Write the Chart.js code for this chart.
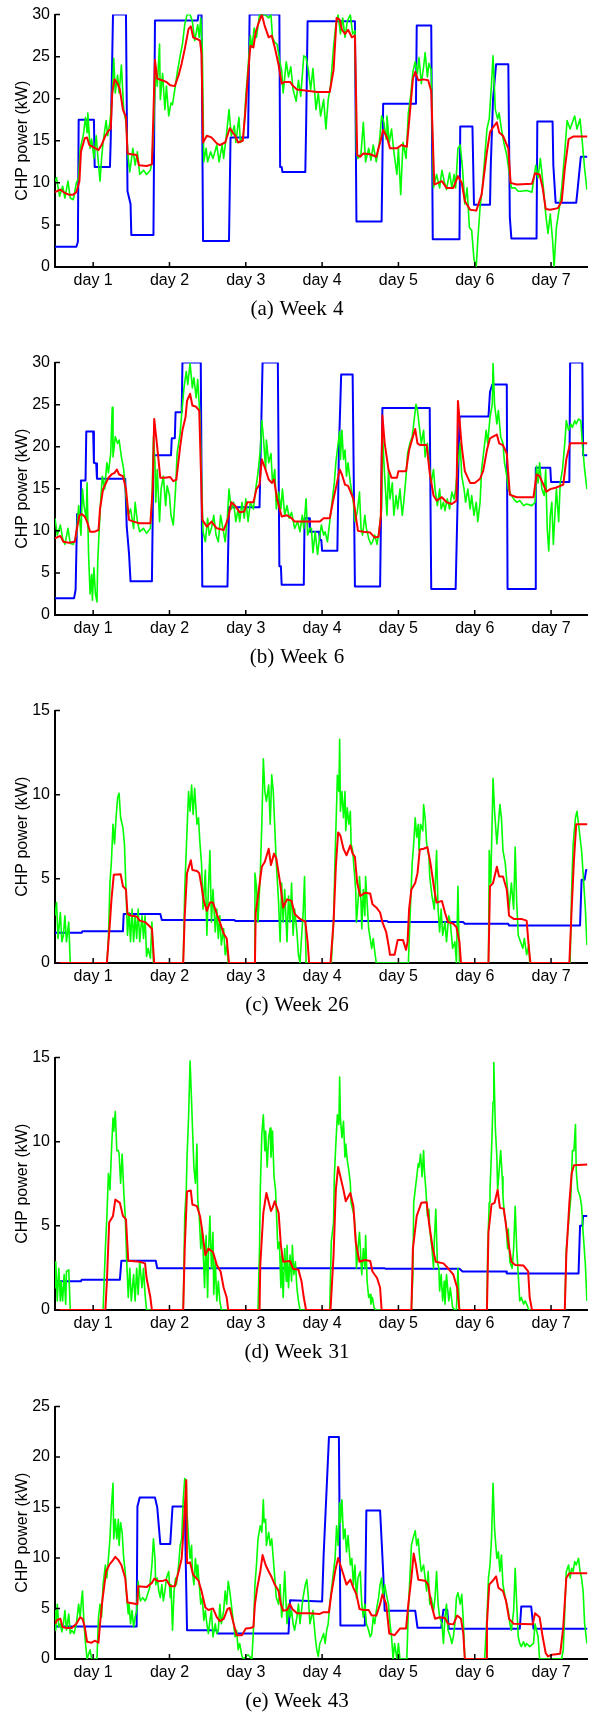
<!DOCTYPE html>
<html>
<head>
<meta charset="utf-8">
<script src="https://cdn.jsdelivr.net/npm/chart.js@4.4.0/dist/chart.umd.min.js"></script>
<style>
body { margin: 0; background: #fff; width: 594px; height: 1712px; position: relative; overflow: hidden; }
.panel { position: absolute; left: 0; width: 594px; height: 300px; }
.cap { position: absolute; left: 0; width: 594px; text-align: center; font-family: "Liberation Serif", serif; font-size: 21px; line-height: 21px; color: #000; word-spacing: 1px; }
</style>
</head>
<body>
<div class="panel" style="top:0px"><canvas id="w4" width="594" height="300"></canvas></div>
<div class="cap" style="top:298px">(a) Week 4</div>
<div class="panel" style="top:348px"><canvas id="w6" width="594" height="300"></canvas></div>
<div class="cap" style="top:646px">(b) Week 6</div>
<div class="panel" style="top:696px"><canvas id="w26" width="594" height="300"></canvas></div>
<div class="cap" style="top:994px">(c) Week 26</div>
<div class="panel" style="top:1043px"><canvas id="w31" width="594" height="300"></canvas></div>
<div class="cap" style="top:1341px">(d) Week 31</div>
<div class="panel" style="top:1392px"><canvas id="w43" width="594" height="300"></canvas></div>
<div class="cap" style="top:1690px">(e) Week 43</div>

<script>
// x in days, y in kW
const dayTicks = [1, 2, 3, 4, 5, 6, 7];
const dayLabels = ['day 1', 'day 2', 'day 3', 'day 4', 'day 5', 'day 6', 'day 7'];

// week 4
const week4Blue = [[0.5,2.4],[0.78,2.4],[0.8,3],[0.81,17.5],[1.01,17.5],[1.02,11.9],[1.22,11.9],[1.23,15],[1.26,30],[1.43,30],[1.45,9],[1.49,7.5],[1.5,3.8],[1.79,3.8],[1.81,29.3],[2.37,29.3],[2.38,30],[2.42,30],[2.44,3.1],[2.78,3.1],[2.8,15.4],[3.03,15.4],[3.05,30],[3.44,30],[3.45,11.9],[3.47,11.9],[3.48,11.3],[3.78,11.3],[3.79,16.4],[3.81,29.2],[4.43,29.2],[4.45,5.4],[4.78,5.4],[4.8,19.4],[5.23,19.4],[5.24,28.7],[5.43,28.7],[5.45,3.3],[5.8,3.3],[5.81,16.7],[5.97,16.7],[5.99,7.4],[6.2,7.4],[6.21,12],[6.24,20],[6.28,24.1],[6.44,24.1],[6.46,5.9],[6.48,3.4],[6.81,3.4],[6.82,17.3],[7.02,17.3],[7.03,12.1],[7.06,7.65],[7.33,7.65],[7.35,9.4],[7.39,13.1],[7.48,13.1]];
const week4Red = [[0.5,8.9],[0.57,9.2],[0.63,8.8],[0.68,8.6],[0.74,8.6],[0.78,8.9],[0.82,10.2],[0.84,13.7],[0.89,15.3],[0.92,15.4],[0.95,14.5],[0.99,14.3],[1.07,13.9],[1.11,14.5],[1.16,15.6],[1.2,16.2],[1.23,16.4],[1.25,20.7],[1.28,22.3],[1.32,21.8],[1.35,21.1],[1.39,18.7],[1.43,17.8],[1.45,13.5],[1.5,13.4],[1.57,13.3],[1.6,12.1],[1.7,12],[1.77,12.2],[1.79,18.3],[1.81,24.6],[1.84,22.4],[1.9,22.2],[1.96,22],[2.01,21.6],[2.07,21.5],[2.12,22.8],[2.16,24.2],[2.2,25.9],[2.25,28.3],[2.28,28.6],[2.31,27.3],[2.36,27.1],[2.4,26.9],[2.42,25.3],[2.44,14.8],[2.49,15.6],[2.55,15.4],[2.62,14.7],[2.66,14.5],[2.73,14.8],[2.79,16.5],[2.86,15.6],[2.9,14.8],[2.96,15],[2.99,18],[3.02,21.8],[3.06,26.3],[3.1,26.1],[3.13,27.9],[3.16,28.8],[3.21,30],[3.25,28.6],[3.3,27.3],[3.34,27.5],[3.38,26.1],[3.43,24],[3.47,21.8],[3.51,22],[3.58,22],[3.62,21.5],[3.67,21.1],[3.75,21],[3.93,20.8],[4.1,20.8],[4.15,23.4],[4.19,29.6],[4.23,29.4],[4.26,28.2],[4.3,27.7],[4.34,28.2],[4.39,27.3],[4.43,27.5],[4.46,13.3],[4.5,13.1],[4.54,13.5],[4.63,13.4],[4.71,13.1],[4.76,14.8],[4.8,16.3],[4.85,15.4],[4.89,14.1],[4.98,14.1],[5.04,14.5],[5.11,14.3],[5.15,18.3],[5.19,22.4],[5.22,23.2],[5.26,22.2],[5.33,22.3],[5.39,22.2],[5.43,20.9],[5.47,9.8],[5.52,10],[5.57,10.2],[5.63,9.4],[5.72,9.4],[5.78,10.8],[5.83,10],[5.87,7.85],[5.94,6.8],[6.02,6.7],[6.09,8.6],[6.16,13.7],[6.2,16],[6.24,16.6],[6.29,17.2],[6.32,16],[6.37,15.6],[6.44,14.1],[6.47,10],[6.55,9.8],[6.75,9.9],[6.79,11.15],[6.85,11],[6.89,9.4],[6.93,6.9],[6.99,6.8],[7.09,7],[7.14,7.85],[7.18,11.7],[7.23,15.2],[7.29,15.5],[7.48,15.5]];
const week4Green = [[0.5,10.2],[0.52,10.6],[0.56,8.4],[0.6,9.6],[0.63,8.2],[0.67,10.2],[0.7,8.2],[0.74,8],[0.78,10],[0.81,10.6],[0.83,14.1],[0.87,15.6],[0.9,17.8],[0.92,16],[0.93,18.3],[0.96,14.1],[0.98,15.2],[1.01,12.9],[1.04,15.6],[1.06,13.3],[1.09,10.2],[1.11,12.9],[1.13,14.8],[1.17,17.4],[1.19,15.6],[1.22,17.2],[1.25,20.3],[1.27,24.8],[1.29,20.7],[1.32,22.8],[1.34,20.7],[1.37,24],[1.4,18.7],[1.43,17.2],[1.46,12.9],[1.48,11.3],[1.52,14.1],[1.55,12.1],[1.58,13.7],[1.61,11],[1.66,11.5],[1.7,11],[1.75,11.5],[1.77,12.5],[1.79,16],[1.82,23.6],[1.84,21.5],[1.87,26.5],[1.88,19.9],[1.91,23],[1.94,18.7],[1.96,21.5],[1.99,17.95],[2.02,19.5],[2.04,19.3],[2.07,21.1],[2.1,23],[2.14,25.1],[2.17,26.5],[2.2,28.8],[2.23,30],[2.27,30],[2.3,29.2],[2.33,26.9],[2.37,28.8],[2.39,27.3],[2.41,29.6],[2.43,26.1],[2.45,12.5],[2.48,14.1],[2.5,12.5],[2.54,13.7],[2.57,12.9],[2.62,14.5],[2.65,12.5],[2.69,14.5],[2.71,12.9],[2.75,16],[2.78,18.7],[2.81,15.6],[2.85,16.8],[2.87,14.8],[2.91,17.8],[2.93,14.8],[2.97,15.6],[3,20.3],[3.03,23.8],[3.06,27.5],[3.08,26.1],[3.11,28.4],[3.14,27.3],[3.18,30],[3.21,30],[3.25,30],[3.3,29.6],[3.33,30],[3.35,27.3],[3.38,26.7],[3.41,26.5],[3.45,24.2],[3.47,23.4],[3.49,20.7],[3.53,24.4],[3.56,22.6],[3.59,23.8],[3.62,21.1],[3.66,19.7],[3.69,22.2],[3.72,20.3],[3.76,25.1],[3.79,24.9],[3.82,23.4],[3.85,21.1],[3.88,23.6],[3.92,18.7],[3.95,20.7],[3.98,17.95],[4.02,19.9],[4.05,16.4],[4.08,19.9],[4.11,21.5],[4.15,26.1],[4.18,28.8],[4.21,30],[4.24,27.7],[4.27,29.6],[4.3,27.3],[4.33,29.2],[4.37,30],[4.4,27.7],[4.43,28.1],[4.45,13.7],[4.47,12.9],[4.51,13.5],[4.54,17.2],[4.57,12.5],[4.61,14.1],[4.64,12.7],[4.67,14.5],[4.71,12.5],[4.75,14.8],[4.78,17.95],[4.81,17.2],[4.84,15.2],[4.85,17.95],[4.88,14.8],[4.91,16.4],[4.94,13.7],[4.98,11],[5,14.1],[5.03,8.6],[5.06,14.8],[5.1,12.9],[5.13,18.3],[5.16,20.3],[5.19,23.2],[5.22,24.4],[5.25,23],[5.27,24.9],[5.3,21.8],[5.33,23.8],[5.35,25.5],[5.38,22.6],[5.4,24.2],[5.43,23.4],[5.46,9.4],[5.5,11],[5.54,9.4],[5.57,11.5],[5.6,10.2],[5.63,9.2],[5.67,11.2],[5.7,9.4],[5.73,11],[5.75,9.4],[5.78,14.1],[5.81,14.5],[5.84,11.7],[5.87,7.5],[5.9,9.4],[5.93,4.7],[5.96,4.35],[5.99,0.9],[6.02,0.1],[6.04,3.2],[6.07,7.1],[6.1,9.4],[6.13,12.9],[6.16,16.4],[6.19,17.6],[6.22,21.8],[6.24,25.1],[6.27,18.7],[6.3,17.6],[6.32,18.3],[6.35,16.4],[6.38,14.8],[6.42,13.3],[6.45,11.3],[6.48,9.4],[6.53,9.4],[6.57,9],[6.61,9],[6.68,9.1],[6.75,8.9],[6.77,10.2],[6.8,12.1],[6.83,10.6],[6.86,12.9],[6.9,9.4],[6.93,6.3],[6.96,4],[6.99,6.3],[7.02,3.2],[7.04,0.1],[7.07,4.7],[7.11,7.1],[7.14,9.4],[7.18,13.7],[7.21,17.4],[7.25,16.4],[7.28,17.2],[7.31,17.95],[7.34,16.4],[7.38,17.6],[7.41,14.8],[7.44,11.7],[7.47,9.2]];

// week 6
const week6Blue = [[0.5,2],[0.75,2],[0.77,3],[0.79,12],[0.83,12],[0.84,16],[0.9,16],[0.91,21.8],[1,21.8],[1.01,18.1],[1.04,18],[1.05,16.2],[1.42,16.2],[1.44,10.5],[1.47,7.3],[1.49,4],[1.77,4],[1.79,19],[2.02,19],[2.03,21],[2.07,21],[2.08,24.1],[2.16,24.1],[2.17,30],[2.41,30],[2.43,3.4],[2.76,3.4],[2.78,12.8],[3.18,12.8],[3.22,30],[3.42,30],[3.44,5.8],[3.46,5.8],[3.47,3.6],[3.76,3.6],[3.77,11.5],[3.83,11.5],[3.84,9.9],[3.96,9.9],[3.97,8.9],[3.99,8.9],[4,7.65],[4.2,7.65],[4.22,19.6],[4.25,28.6],[4.4,28.6],[4.43,3.4],[4.76,3.4],[4.79,24.6],[5.41,24.6],[5.43,3.1],[5.75,3.1],[5.8,23.6],[6.18,23.6],[6.2,26.5],[6.23,27.4],[6.42,27.4],[6.43,3.1],[6.79,3.1],[6.8,17.5],[6.99,17.5],[7,15.8],[7.24,15.8],[7.25,30],[7.41,30],[7.42,19],[7.48,19]];
const week6Red = [[0.5,9.1],[0.57,9.4],[0.61,8.7],[0.68,8.6],[0.76,8.7],[0.78,9.9],[0.82,11.85],[0.85,12],[0.89,11.7],[0.92,11.1],[0.96,9.9],[1.02,9.9],[1.07,10.1],[1.09,12.6],[1.13,14.96],[1.2,16.3],[1.24,16.7],[1.28,16.9],[1.31,17.3],[1.34,16.7],[1.39,16.5],[1.43,14.96],[1.47,11.3],[1.53,11.1],[1.61,10.9],[1.75,10.9],[1.78,14.96],[1.8,23.3],[1.83,20.8],[1.88,16.3],[1.94,16.3],[2.01,16.4],[2.05,15.9],[2.09,16.1],[2.14,20],[2.17,21.95],[2.21,23.5],[2.23,25.45],[2.27,26.3],[2.3,24.9],[2.35,24.75],[2.39,24.3],[2.43,11.3],[2.49,10.5],[2.55,11.1],[2.62,10.3],[2.71,10.1],[2.77,11.5],[2.81,13.4],[2.86,13],[2.92,12.2],[2.98,12.3],[3.02,13.4],[3.1,13.4],[3.14,14.96],[3.18,15.5],[3.21,18.5],[3.25,17.5],[3.3,16.1],[3.34,15.7],[3.37,16.1],[3.41,13.8],[3.47,11.7],[3.54,11.85],[3.6,11.5],[3.64,11.1],[3.97,11.1],[4.02,11.5],[4.1,11.5],[4.14,13.4],[4.19,15.5],[4.23,17.3],[4.26,16.7],[4.3,15.5],[4.34,15.35],[4.41,13.8],[4.44,11.85],[4.47,10],[4.54,9.9],[4.63,9.8],[4.69,9.2],[4.74,9.3],[4.77,11.85],[4.79,23.7],[4.82,20.4],[4.87,17.3],[4.91,16.3],[4.98,16.3],[5,17.1],[5.1,17.1],[5.14,19.6],[5.19,21.2],[5.22,22.1],[5.25,20.4],[5.28,20.2],[5.37,20.2],[5.41,16.9],[5.46,14.2],[5.5,13.6],[5.57,14],[5.63,13.4],[5.7,13.2],[5.76,13.6],[5.78,25.45],[5.83,20],[5.87,17.1],[5.94,15.7],[6,15.7],[6.07,16.2],[6.11,17.1],[6.16,19.6],[6.2,21],[6.24,21.2],[6.29,21.45],[6.32,20.4],[6.37,20.2],[6.42,19.2],[6.46,14.3],[6.55,14],[6.77,14],[6.81,16.7],[6.85,16.5],[6.9,15.5],[6.94,14.65],[6.99,14.96],[7.07,15.15],[7.16,15.5],[7.2,18.5],[7.25,20.4],[7.48,20.4]];
const week6Green = [[0.5,11.5],[0.53,9.5],[0.57,10.7],[0.6,9.1],[0.63,8.4],[0.67,10.3],[0.7,8.5],[0.74,8.4],[0.78,9.5],[0.81,13],[0.84,9.5],[0.86,14.96],[0.88,13],[0.91,11.5],[0.92,15.7],[0.94,7.2],[0.96,2.5],[0.98,4.8],[0.99,1.75],[1.01,5.6],[1.03,2.5],[1.05,1.55],[1.06,6.4],[1.08,10.3],[1.1,13.8],[1.12,16.5],[1.15,14.96],[1.18,18.1],[1.2,16.9],[1.23,19.2],[1.25,24.7],[1.26,18.8],[1.29,21.2],[1.32,20.4],[1.34,20.8],[1.37,18.8],[1.4,17.3],[1.43,14.2],[1.46,11.85],[1.49,12.6],[1.53,10.3],[1.55,13.4],[1.58,11.1],[1.61,9.9],[1.66,10.3],[1.7,9.7],[1.75,10.3],[1.77,13.4],[1.79,21.2],[1.81,18.1],[1.82,13.4],[1.84,17.3],[1.87,11.1],[1.89,14.96],[1.92,16.5],[1.95,13],[1.97,15.35],[2,14.2],[2.02,11.85],[2.05,10.7],[2.08,14.96],[2.1,19.2],[2.14,21.6],[2.16,23.9],[2.19,27],[2.22,28.95],[2.24,27.4],[2.27,29.9],[2.3,27],[2.32,28.2],[2.35,25.8],[2.37,28],[2.4,23.5],[2.42,16.5],[2.44,9.9],[2.47,8.7],[2.5,11.5],[2.52,9.5],[2.55,10.3],[2.58,11.85],[2.61,9.5],[2.64,8.7],[2.67,11.85],[2.7,10.3],[2.73,8.7],[2.76,11.85],[2.78,14.96],[2.81,12.6],[2.84,13.4],[2.87,11.1],[2.9,12.6],[2.92,11.1],[2.95,13.4],[2.98,11.5],[3,13.8],[3.03,11.1],[3.06,13.4],[3.1,12.6],[3.13,14.96],[3.16,16.9],[3.19,19.6],[3.21,23.1],[3.23,21.2],[3.26,17.3],[3.27,20.8],[3.3,18.1],[3.33,19.2],[3.35,15.7],[3.38,17.3],[3.4,12.6],[3.43,14.6],[3.46,12.6],[3.48,14.96],[3.51,11.85],[3.54,13],[3.57,11.5],[3.6,12.2],[3.64,10.3],[3.68,11.1],[3.71,9.9],[3.74,11.85],[3.76,10.3],[3.79,13.8],[3.81,9.5],[3.84,10.3],[3.86,10.3],[3.88,7.4],[3.91,9.9],[3.94,7.2],[3.96,8.7],[3.99,10.7],[4.02,9.5],[4.04,9.9],[4.07,8.7],[4.1,11.1],[4.13,13.4],[4.16,15.7],[4.18,18.1],[4.21,20.4],[4.23,21.8],[4.24,18.5],[4.26,21.95],[4.28,18.5],[4.3,19.6],[4.32,16.5],[4.34,18.1],[4.37,15.7],[4.39,14.6],[4.41,13.4],[4.43,11.1],[4.46,12.2],[4.49,14.6],[4.51,10.3],[4.53,9.5],[4.56,11.85],[4.58,10.3],[4.61,9.1],[4.64,8.4],[4.66,8.7],[4.69,9.5],[4.72,8.4],[4.75,10.3],[4.78,12.6],[4.79,21.95],[4.81,18.1],[4.83,14.96],[4.85,11.85],[4.87,17.3],[4.89,13.8],[4.92,15.7],[4.94,11.85],[4.97,14.2],[4.99,12.6],[5.02,14.96],[5.05,11.85],[5.07,13.4],[5.1,16.5],[5.12,19.2],[5.15,20.4],[5.18,21.2],[5.2,22.7],[5.23,25.05],[5.25,24.3],[5.27,22.7],[5.3,20.4],[5.33,21.95],[5.35,18.8],[5.38,20.4],[5.4,18.1],[5.43,15.7],[5.46,17.3],[5.48,14.96],[5.51,13],[5.54,14.96],[5.56,12.6],[5.59,13.4],[5.61,12.4],[5.64,13.8],[5.67,12.6],[5.7,14.6],[5.73,13.8],[5.75,14.96],[5.78,18.1],[5.81,20.4],[5.83,16.5],[5.86,14.96],[5.88,13.4],[5.91,14.96],[5.94,12.6],[5.96,14.2],[5.99,11.85],[6.02,13.4],[6.04,11.1],[6.07,13.4],[6.09,17.3],[6.12,19.6],[6.15,21.95],[6.17,20.4],[6.2,23.5],[6.23,25.05],[6.24,29.9],[6.26,25.05],[6.29,22.7],[6.31,24.3],[6.34,21.2],[6.37,20.4],[6.39,18.1],[6.42,16.5],[6.44,14.96],[6.47,14.4],[6.51,13.8],[6.55,13.4],[6.59,13.6],[6.64,13],[6.68,13.2],[6.75,13],[6.79,13.4],[6.81,17.7],[6.83,15.7],[6.85,18.1],[6.88,14.96],[6.91,14.2],[6.93,17.3],[6.95,10.3],[6.97,7.6],[6.99,11.85],[7.01,13.4],[7.03,8.4],[7.05,11.85],[7.07,14.96],[7.1,11.1],[7.12,15.7],[7.15,17.3],[7.18,20.4],[7.2,23.1],[7.23,21.95],[7.26,22.7],[7.28,22.3],[7.31,23.1],[7.33,22.7],[7.36,23.3],[7.39,23.1],[7.41,20.4],[7.44,17.3],[7.47,14.96]];

// week 26
const week26Blue = [[0.5,1.8],[0.85,1.8],[0.86,1.88],[1.39,1.88],[1.4,2.91],[1.88,2.91],[1.9,2.56],[2.85,2.56],[2.86,2.5],[4.85,2.5],[4.87,2.43],[5.85,2.43],[5.87,2.33],[6.44,2.33],[6.45,2.23],[7.38,2.23],[7.4,4.95],[7.44,4.95],[7.46,5.53],[7.48,5.53]];
const week26Red = [[0.5,0],[1.18,0],[1.22,2.43],[1.24,3.78],[1.27,5.24],[1.36,5.28],[1.39,4.56],[1.43,4.37],[1.45,2.91],[1.5,2.81],[1.57,2.77],[1.61,2.52],[1.68,2.43],[1.72,2.27],[1.77,2.04],[1.8,0],[2.18,0],[2.2,2.81],[2.23,5.34],[2.28,6.11],[2.3,5.53],[2.36,5.47],[2.39,5.34],[2.42,4.56],[2.45,3.69],[2.49,3.1],[2.53,3.59],[2.57,3.59],[2.62,2.91],[2.66,2.43],[2.71,1.75],[2.75,1.46],[2.78,0],[3.12,0],[3.13,3],[3.16,3.98],[3.21,5.72],[3.25,6.02],[3.3,6.79],[3.33,5.82],[3.37,6.5],[3.4,6.21],[3.45,4.75],[3.49,3.3],[3.54,3.78],[3.6,3.69],[3.64,2.91],[3.71,2.62],[3.78,2.46],[3.81,1.26],[3.83,0],[4.11,0],[4.15,2.43],[4.18,5.72],[4.21,7.76],[4.24,7.57],[4.28,6.79],[4.32,6.4],[4.37,6.99],[4.4,6.5],[4.43,6.31],[4.46,4.75],[4.5,3.98],[4.56,4.17],[4.63,4.13],[4.66,3.49],[4.71,3.3],[4.76,3],[4.79,2.43],[4.84,1.84],[4.87,1.07],[4.89,0.49],[4.95,0.49],[4.99,1.36],[5.06,1.36],[5.1,0.78],[5.12,1.26],[5.14,3.2],[5.17,4.37],[5.22,4.75],[5.25,5.34],[5.28,6.74],[5.33,6.79],[5.38,6.89],[5.42,5.92],[5.47,4.37],[5.5,3.59],[5.57,3.69],[5.61,3],[5.65,2.43],[5.72,2.33],[5.76,2.13],[5.8,1.26],[5.82,0],[6.18,0],[6.2,4.56],[6.24,4.75],[6.29,5.72],[6.32,5.14],[6.37,5.14],[6.42,4.37],[6.45,2.81],[6.51,2.62],[6.61,2.62],[6.68,2.52],[6.71,0.87],[6.73,0],[7.24,0],[7.27,3.2],[7.3,6.11],[7.33,8.25],[7.48,8.25]];
const week26Green = [[0.5,2.81],[0.52,3.59],[0.54,1.46],[0.57,3],[0.59,1.26],[0.61,1.65],[0.63,2.81],[0.65,1.26],[0.68,2.43],[0.7,0],[1.18,0],[1.2,1.46],[1.22,4.75],[1.24,6.11],[1.26,8.25],[1.28,7.08],[1.3,8.63],[1.32,9.8],[1.34,10.09],[1.36,8.63],[1.39,8.05],[1.41,7.08],[1.43,4.37],[1.45,1.65],[1.47,3],[1.49,1.26],[1.51,3.2],[1.53,1.26],[1.55,2.81],[1.57,1.46],[1.59,3.2],[1.61,1.26],[1.64,2.81],[1.66,1.46],[1.68,2.81],[1.7,0.39],[1.72,0.87],[1.75,0.29],[1.77,2.43],[1.79,0],[2.18,0],[2.2,4.37],[2.23,7.86],[2.25,10.19],[2.27,9.02],[2.29,10.58],[2.31,8.83],[2.33,10.38],[2.36,8.25],[2.38,8.63],[2.4,7.08],[2.42,5.92],[2.44,3.2],[2.47,5.53],[2.49,1.65],[2.51,4.37],[2.53,6.69],[2.55,2.43],[2.57,4.37],[2.6,1.84],[2.62,3.2],[2.64,1.46],[2.66,2.81],[2.68,1.07],[2.71,2.04],[2.73,0.49],[2.75,1.07],[2.77,0],[3.11,0],[3.12,5.34],[3.14,4.56],[3.16,2.43],[3.19,5.34],[3.21,8.25],[3.23,12.13],[3.25,10.19],[3.27,9.6],[3.3,10.58],[3.32,8.25],[3.34,11.18],[3.36,10.19],[3.38,8.05],[3.4,5.92],[3.43,3.59],[3.45,1.26],[3.47,4.75],[3.49,2.43],[3.51,4.37],[3.54,1.26],[3.56,3.98],[3.58,2.43],[3.6,4.75],[3.62,1.65],[3.64,3.2],[3.67,1.84],[3.69,0.49],[3.71,0],[3.73,1.5],[3.75,2.81],[3.77,5.14],[3.79,0],[4.12,0],[4.15,2.43],[4.17,6.31],[4.19,9.41],[4.2,11.16],[4.22,10.19],[4.23,13.29],[4.24,9.02],[4.26,10.19],[4.28,8.63],[4.3,10.19],[4.31,7.86],[4.33,9.22],[4.35,8.25],[4.37,9.02],[4.38,7.08],[4.4,6.69],[4.42,5.53],[4.44,4.37],[4.45,2.43],[4.47,3.59],[4.49,5.14],[4.51,3.59],[4.52,2.04],[4.54,4.37],[4.56,2.81],[4.57,5.14],[4.59,3.59],[4.61,2.04],[4.63,1.46],[4.65,0.87],[4.67,1.46],[4.69,0.68],[4.71,0],[5.13,0],[5.15,2.43],[5.18,5.92],[5.2,7.08],[5.22,8.63],[5.24,7.47],[5.26,8.25],[5.27,6.69],[5.29,8.25],[5.32,7.86],[5.33,9.41],[5.35,8.63],[5.37,7.08],[5.4,6.31],[5.41,5.14],[5.44,3.98],[5.47,3.2],[5.48,4.37],[5.5,6.69],[5.52,3.2],[5.54,1.84],[5.56,3.2],[5.58,1.65],[5.61,2.43],[5.63,1.26],[5.66,2.81],[5.68,2.43],[5.71,0.87],[5.74,1.26],[5.76,0],[5.78,4.56],[5.8,0],[6.18,0],[6.19,6.69],[6.21,4.75],[6.23,8.83],[6.24,10.97],[6.26,9.02],[6.29,7.08],[6.31,8.25],[6.33,9.41],[6.35,8.63],[6.37,6.69],[6.4,5.92],[6.43,4.37],[6.45,3.2],[6.48,4.75],[6.51,3.2],[6.53,6.89],[6.55,3.59],[6.57,1.65],[6.6,1.26],[6.63,0.87],[6.65,1.46],[6.68,0.49],[6.71,1.07],[6.72,0],[7.25,0],[7.27,4.37],[7.29,7.08],[7.32,8.63],[7.34,9.02],[7.36,8.25],[7.38,7.47],[7.4,6.69],[7.42,5.34],[7.45,3.2],[7.47,1.07]];

// week 31
const week31Blue = [[0.5,1.71],[0.84,1.71],[0.85,1.8],[1.35,1.8],[1.37,2.93],[1.82,2.93],[1.84,2.48],[4.82,2.48],[4.83,2.45],[5.8,2.45],[5.84,2.29],[6.41,2.29],[6.42,2.17],[7.36,2.17],[7.38,5],[7.41,5],[7.42,5.59],[7.48,5.59]];
const week31Red = [[0.5,0],[1.16,0],[1.18,1.71],[1.21,5.2],[1.26,5.59],[1.29,6.56],[1.35,6.37],[1.39,5.59],[1.43,5.39],[1.46,2.93],[1.61,2.87],[1.68,2.77],[1.7,1.9],[1.75,0.74],[1.77,0],[2.18,0],[2.2,3.65],[2.23,7.04],[2.28,7.1],[2.3,6.27],[2.36,6.17],[2.4,5.59],[2.42,5],[2.47,3.26],[2.51,3.65],[2.57,3.45],[2.62,2.68],[2.67,2.29],[2.71,1.32],[2.75,0.74],[2.77,0],[3.18,0],[3.19,2.68],[3.23,5.78],[3.27,6.95],[3.33,5.88],[3.35,6.07],[3.38,6.46],[3.43,5.78],[3.46,3.84],[3.49,2.87],[3.58,2.91],[3.62,2.45],[3.69,2.39],[3.73,1.71],[3.76,0.74],[3.79,0],[4.11,0],[4.15,3.26],[4.18,7.14],[4.21,8.5],[4.24,7.92],[4.28,7.14],[4.31,6.46],[4.37,6.95],[4.41,6.17],[4.44,4.04],[4.49,2.87],[4.56,2.97],[4.63,2.91],[4.66,2.29],[4.72,1.9],[4.76,1.32],[4.78,0],[5.17,0],[5.19,3.65],[5.24,5.59],[5.27,5.98],[5.3,6.37],[5.37,6.4],[5.4,5.2],[5.45,3.65],[5.49,2.87],[5.59,2.77],[5.65,2.48],[5.72,2.1],[5.77,1.32],[5.8,0],[6.16,0],[6.18,4.62],[6.22,6.27],[6.26,6.37],[6.3,7.14],[6.33,6.07],[6.38,6.02],[6.44,4.04],[6.48,2.87],[6.53,2.68],[6.64,2.64],[6.7,2.29],[6.72,0.74],[6.75,0],[7.18,0],[7.2,3.26],[7.24,6.37],[7.27,8.11],[7.3,8.6],[7.48,8.65]];
const week31Green = [[0.5,1.32],[0.51,2.87],[0.53,0.54],[0.55,2.48],[0.57,0.54],[0.58,1.71],[0.6,0.54],[0.62,2.1],[0.64,0.35],[0.65,2.29],[0.68,2.39],[0.7,0],[1.13,0],[1.16,3.65],[1.18,5.59],[1.2,8.11],[1.22,7.14],[1.24,9.47],[1.26,11.41],[1.27,10.63],[1.29,11.8],[1.31,9.47],[1.33,9.47],[1.34,9.27],[1.36,7.53],[1.38,9.27],[1.4,7.14],[1.42,5.59],[1.44,2.87],[1.46,0.74],[1.48,2.48],[1.5,0.54],[1.53,2.1],[1.55,0.54],[1.57,2.48],[1.59,0.93],[1.61,2.87],[1.64,1.32],[1.66,2.48],[1.68,0.93],[1.7,0],[2.18,0],[2.2,5.59],[2.22,7.14],[2.23,9.08],[2.25,11.41],[2.27,14.8],[2.29,12.38],[2.3,11.02],[2.32,8.5],[2.34,7.53],[2.36,9.86],[2.37,6.56],[2.39,5.59],[2.41,3.65],[2.43,4.81],[2.44,3.65],[2.46,1.32],[2.48,4.42],[2.5,0.74],[2.51,3.26],[2.53,5.59],[2.55,2.48],[2.57,4.62],[2.58,0.93],[2.6,2.87],[2.62,0.54],[2.64,1.71],[2.66,0.54],[2.68,0],[3.16,0],[3.18,3.65],[3.19,7.14],[3.21,10.44],[3.23,11.6],[3.25,9.47],[3.26,10.63],[3.28,8.5],[3.3,10.24],[3.32,10.82],[3.33,9.08],[3.35,10.63],[3.37,7.92],[3.39,7.14],[3.4,5.98],[3.42,3.65],[3.44,4.04],[3.46,1.32],[3.47,3.26],[3.49,0.74],[3.51,3.65],[3.53,1.71],[3.54,3.84],[3.56,1.32],[3.58,3.26],[3.6,1.71],[3.61,3.84],[3.63,2.1],[3.65,2.87],[3.67,1.32],[3.69,0.54],[3.71,0],[4.1,0],[4.12,4.04],[4.15,5.2],[4.16,7.92],[4.18,9.86],[4.2,11.6],[4.22,11.02],[4.23,13.84],[4.24,11.41],[4.26,10.24],[4.28,11.21],[4.3,9.08],[4.31,9.86],[4.33,8.89],[4.35,8.3],[4.37,7.53],[4.38,6.37],[4.4,5.98],[4.42,5.59],[4.44,4.42],[4.45,2.48],[4.47,3.65],[4.49,4.62],[4.51,2.87],[4.52,2.1],[4.54,3.65],[4.56,2.48],[4.57,4.42],[4.59,1.71],[4.61,0.74],[4.63,0.93],[4.64,0.35],[4.66,0.74],[4.68,0.16],[4.7,0],[5.17,0],[5.19,2.1],[5.2,6.37],[5.22,7.14],[5.24,7.92],[5.26,8.69],[5.27,8.5],[5.29,9.27],[5.31,7.92],[5.33,9.47],[5.34,8.3],[5.36,7.14],[5.38,5.59],[5.4,5.98],[5.41,4.81],[5.44,3.65],[5.46,2.48],[5.47,4.04],[5.49,5.98],[5.51,2.87],[5.53,2.48],[5.54,1.13],[5.56,2.1],[5.58,0.54],[5.6,1.71],[5.61,0.35],[5.63,2.1],[5.66,0.54],[5.68,1.32],[5.71,0.16],[5.74,0],[5.76,0],[5.78,2.48],[5.8,0],[6.16,0],[6.17,3.65],[6.19,6.37],[6.2,7.14],[6.22,9.47],[6.24,12.38],[6.25,14.71],[6.27,10.82],[6.29,9.08],[6.3,7.14],[6.32,8.3],[6.34,9.47],[6.36,7.92],[6.37,6.75],[6.39,5.59],[6.41,5.2],[6.43,3.65],[6.44,4.81],[6.46,2.87],[6.49,2.48],[6.51,3.65],[6.53,6.17],[6.55,3.65],[6.57,2.1],[6.59,0.54],[6.61,0.74],[6.64,0.35],[6.66,0.54],[6.68,0.35],[6.71,0],[7.18,0],[7.2,3.65],[7.23,5.2],[7.26,6.75],[7.28,9.47],[7.3,9.47],[7.32,11.02],[7.33,8.3],[7.35,7.14],[7.38,6.75],[7.4,6.17],[7.42,4.62],[7.45,2.68],[7.47,0.54]];

// week 43
const week43Blue = [[0.5,3.23],[1.57,3.23],[1.58,15.1],[1.61,16],[1.81,16],[1.84,15],[1.88,11.4],[2.01,11.4],[2.04,15.1],[2.2,15.1],[2.23,2.85],[2.62,2.85],[2.63,2.52],[3.56,2.52],[3.58,5.82],[4,5.7],[4.02,10.3],[4.09,22],[4.22,22],[4.24,3.33],[4.56,3.33],[4.58,14.7],[4.76,14.7],[4.8,8.67],[4.82,4.78],[5.22,4.78],[5.25,3.1],[5.56,3.1],[5.59,4.88],[5.64,4.88],[5.66,3],[6.59,3],[6.61,5.2],[6.74,5.2],[6.77,3],[7.48,3]];
const week43Red = [[0.5,3.49],[0.53,3.88],[0.57,3.98],[0.6,3.17],[0.65,3.07],[0.72,3.07],[0.78,3.49],[0.83,4.14],[0.86,3.98],[0.89,3.17],[0.92,1.71],[0.98,1.62],[1.02,1.81],[1.07,1.62],[1.09,3.49],[1.12,5.76],[1.17,8.67],[1.21,9.31],[1.26,9.8],[1.29,10.12],[1.33,9.8],[1.37,9.31],[1.42,8.02],[1.45,5.6],[1.53,5.5],[1.58,5.43],[1.59,7.21],[1.7,7.12],[1.77,7.54],[1.8,7.96],[1.85,7.7],[1.92,7.76],[1.96,7.86],[2.01,7.21],[2.07,7.21],[2.12,8.67],[2.16,9.96],[2.19,13.52],[2.22,17.7],[2.23,9.48],[2.27,9.57],[2.31,8.35],[2.38,7.76],[2.42,6.73],[2.47,5.11],[2.51,4.85],[2.57,5.01],[2.62,4.14],[2.66,3.75],[2.71,3.98],[2.76,4.95],[2.79,5.05],[2.83,3.82],[2.88,2.36],[2.95,2.36],[3,3.01],[3.06,3.07],[3.1,3.17],[3.12,5.43],[3.15,7.05],[3.19,8.67],[3.22,10.29],[3.26,9.31],[3.3,8.67],[3.34,8.09],[3.38,7.37],[3.43,6.73],[3.46,5.43],[3.49,4.79],[3.54,4.85],[3.58,5.43],[3.61,4.95],[3.67,4.53],[3.84,4.53],[3.97,4.46],[4.01,4.63],[4.09,4.63],[4.12,6.4],[4.17,8.67],[4.21,10],[4.24,9.31],[4.28,8.35],[4.32,7.37],[4.37,7.86],[4.41,7.05],[4.45,6.4],[4.49,4.95],[4.54,4.85],[4.61,4.85],[4.65,4.3],[4.71,4.3],[4.76,5.43],[4.79,6.4],[4.84,5.43],[4.88,2.52],[4.95,2.36],[5.02,3.01],[5.1,3.01],[5.13,5.43],[5.17,8.02],[5.2,10.45],[5.23,9.31],[5.26,7.86],[5.35,7.76],[5.39,7.37],[5.43,5.43],[5.48,3.98],[5.54,4.14],[5.61,4.07],[5.65,3.49],[5.72,3.43],[5.77,4.3],[5.82,3.98],[5.85,2.52],[5.87,0],[6.15,0],[6.16,3.49],[6.19,7.37],[6.23,7.7],[6.28,8.18],[6.31,7.05],[6.37,6.73],[6.41,5.76],[6.45,3.98],[6.51,3.49],[6.76,3.43],[6.79,4.53],[6.85,4.14],[6.89,2.2],[6.93,0.58],[6.96,0.26],[7.01,0.42],[7.12,0.52],[7.16,3.17],[7.2,8.02],[7.24,8.5],[7.48,8.5]];
const week43Green = [[0.5,4.79],[0.51,2.85],[0.53,5.43],[0.55,3.17],[0.57,3.49],[0.59,2.68],[0.61,3.49],[0.63,4.79],[0.65,2.85],[0.68,4.46],[0.7,2.52],[0.72,2.85],[0.75,2.52],[0.78,3.49],[0.81,5.43],[0.83,4.14],[0.85,6.08],[0.86,6.73],[0.88,3.49],[0.9,1.54],[0.92,0],[0.96,0.91],[0.98,0],[1.05,0],[1.07,4.14],[1.09,5.43],[1.11,4.14],[1.13,7.37],[1.16,9.31],[1.18,8.02],[1.2,9.96],[1.22,11.9],[1.24,15.14],[1.26,17.4],[1.27,11.9],[1.29,13.84],[1.31,11.9],[1.33,13.84],[1.34,11.25],[1.36,13.52],[1.38,12.55],[1.4,9.96],[1.42,8.67],[1.44,6.08],[1.46,4.46],[1.47,5.43],[1.49,3.49],[1.51,4.79],[1.53,3.17],[1.55,4.14],[1.57,4.79],[1.59,7.7],[1.61,6.08],[1.62,5.76],[1.65,6.08],[1.68,5.76],[1.7,6.08],[1.74,7.05],[1.77,9.31],[1.79,11.9],[1.81,9.96],[1.82,7.37],[1.84,8.02],[1.86,6.73],[1.88,6.08],[1.9,7.37],[1.92,5.76],[1.94,6.73],[1.96,8.02],[1.99,8.67],[2.01,6.08],[2.02,7.37],[2.04,2.85],[2.06,6.73],[2.08,8.02],[2.09,7.37],[2.12,9.31],[2.14,11.25],[2.16,11.9],[2.18,15.78],[2.2,17.88],[2.22,17.7],[2.23,14.49],[2.25,11.9],[2.27,9.96],[2.29,11.25],[2.3,8.67],[2.32,7.37],[2.34,9.96],[2.36,8.02],[2.37,9.31],[2.39,7.37],[2.41,5.43],[2.43,6.08],[2.45,3.82],[2.47,4.79],[2.49,3.49],[2.51,2.52],[2.53,3.82],[2.55,4.79],[2.57,2.2],[2.6,3.49],[2.62,2.52],[2.64,2.85],[2.66,5.43],[2.68,3.49],[2.71,4.79],[2.73,6.73],[2.75,5.43],[2.77,7.7],[2.79,6.73],[2.81,5.43],[2.84,3.49],[2.86,2.2],[2.88,2.85],[2.9,0.91],[2.92,1.54],[2.95,0.26],[2.97,0],[3.03,0.42],[3.08,0],[3.1,2.85],[3.12,7.37],[3.14,9.31],[3.16,11.9],[3.19,13.2],[3.21,12.55],[3.23,15.78],[3.24,13.52],[3.26,13.84],[3.27,11.25],[3.3,12.55],[3.32,11.25],[3.34,11.9],[3.36,9.96],[3.38,8.02],[3.4,6.08],[3.43,5.43],[3.45,7.37],[3.47,4.14],[3.49,5.43],[3.51,8.67],[3.54,3.49],[3.56,5.43],[3.58,4.14],[3.6,4.79],[3.62,3.49],[3.64,2.85],[3.67,4.14],[3.69,5.43],[3.71,3.49],[3.73,4.79],[3.75,6.08],[3.78,7.37],[3.8,7.86],[3.82,6.08],[3.84,3.49],[3.86,4.14],[3.88,4.79],[3.91,2.2],[3.93,0.91],[3.95,0.26],[3.97,1.54],[3.99,1.88],[4.02,2.52],[4.04,1.54],[4.06,2.85],[4.08,3.49],[4.1,5.43],[4.12,6.73],[4.15,8.67],[4.17,9.96],[4.19,13.2],[4.21,11.25],[4.23,15.46],[4.24,13.52],[4.26,15.78],[4.28,11.9],[4.3,12.87],[4.32,10.61],[4.34,12.23],[4.37,9.31],[4.39,9.96],[4.41,7.37],[4.43,9.31],[4.45,6.08],[4.47,8.02],[4.5,8.67],[4.52,5.43],[4.54,4.14],[4.56,5.43],[4.58,3.49],[4.61,2.85],[4.63,2.2],[4.65,2.52],[4.67,4.14],[4.69,3.49],[4.71,4.79],[4.74,6.08],[4.76,7.37],[4.78,8.02],[4.8,6.08],[4.82,7.37],[4.85,6.08],[4.87,5.43],[4.89,3.49],[4.91,2.2],[4.93,0],[4.95,1.54],[4.98,0],[5,1.54],[5.02,0],[5.11,0],[5.13,4.79],[5.15,8.02],[5.17,11.25],[5.19,11.9],[5.22,12.71],[5.24,11.25],[5.26,11.9],[5.28,9.96],[5.3,8.67],[5.33,9.31],[5.35,8.02],[5.37,6.73],[5.39,8.67],[5.41,5.43],[5.43,6.08],[5.46,4.79],[5.48,6.08],[5.5,8.67],[5.52,5.43],[5.54,4.14],[5.57,3.49],[5.59,1.54],[5.61,4.14],[5.63,5.43],[5.65,2.85],[5.68,2.2],[5.7,1.54],[5.72,2.2],[5.74,3.49],[5.76,6.08],[5.78,6.57],[5.81,5.43],[5.83,6.4],[5.85,3.82],[5.87,0],[6.13,0],[6.16,4.14],[6.18,8.02],[6.2,9.31],[6.22,11.9],[6.24,17.4],[6.26,12.87],[6.29,9.96],[6.31,10.61],[6.33,8.67],[6.35,10.29],[6.37,7.37],[6.4,6.08],[6.42,5.43],[6.44,4.79],[6.46,3.49],[6.48,2.85],[6.51,4.79],[6.53,8.99],[6.55,5.43],[6.57,2.2],[6.59,1.54],[6.61,1.23],[6.64,1.71],[6.66,1.23],[6.68,1.54],[6.72,1.23],[6.77,1.54],[6.79,3.49],[6.81,2.85],[6.83,2.2],[6.85,0],[7.14,0],[7.16,0.91],[7.18,4.79],[7.2,8.67],[7.23,9.31],[7.25,8.02],[7.27,8.99],[7.29,8.67],[7.31,9.64],[7.33,9.31],[7.36,9.96],[7.38,8.67],[7.4,8.02],[7.42,6.73],[7.44,3.49],[7.47,1.54]];

const panels = [
    { id: 'w4', yMax: 30, blue: week4Blue, green: week4Green, red: week4Red },
    { id: 'w6', yMax: 30, blue: week6Blue, green: week6Green, red: week6Red },
    { id: 'w26', yMax: 15, blue: week26Blue, green: week26Green, red: week26Red },
    { id: 'w31', yMax: 15, blue: week31Blue, green: week31Green, red: week31Red },
    { id: 'w43', yMax: 25, blue: week43Blue, green: week43Green, red: week43Red }
];

// matlab style ticks pointing into the plot
const inwardTicks = {
    id: 'inwardTicks',
    afterDraw(chart) {
        const { ctx, chartArea, scales } = chart;
        ctx.save();
        ctx.strokeStyle = '#000';
        ctx.lineWidth = 1.5;
        ctx.beginPath();
        scales.x.ticks.forEach(t => {
            const px = scales.x.getPixelForValue(t.value);
            ctx.moveTo(px, chartArea.bottom);
            ctx.lineTo(px, chartArea.bottom - 5);
        });
        scales.y.ticks.forEach(t => {
            const py = scales.y.getPixelForValue(t.value);
            ctx.moveTo(chartArea.left, py);
            ctx.lineTo(chartArea.left + 5, py);
        });
        ctx.stroke();
        ctx.restore();
    }
};

const toPoints = pairs => pairs.map(p => ({ x: p[0], y: p[1] }));
const font = { family: 'Liberation Sans', size: 16 };

panels.forEach(p => {
    new Chart(document.getElementById(p.id), {
        type: 'line',
        data: {
            datasets: [
                { data: toPoints(p.red), borderColor: '#ff0000', borderWidth: 2 },
                { data: toPoints(p.green), borderColor: '#00ff00', borderWidth: 1.6 },
                { data: toPoints(p.blue), borderColor: '#0000ff', borderWidth: 2 }
            ]
        },
        options: {
            responsive: false,
            animation: false,
            devicePixelRatio: 1,
            layout: { padding: { top: 10, right: 6.7, left: 0, bottom: 0 } },
            elements: { point: { radius: 0 }, line: { tension: 0, borderJoinStyle: 'round' } },
            plugins: { legend: { display: false }, tooltip: { enabled: false } },
            scales: {
                x: {
                    type: 'linear', min: 0.5, max: 7.475,
                    afterBuildTicks: s => { s.ticks = dayTicks.map(v => ({ value: v })); },
                    afterFit: s => { s.height = 33; },
                    grid: { display: false, drawTicks: false },
                    border: { display: true, color: '#000', width: 2 },
                    ticks: { color: '#000', font: font, padding: 4, maxRotation: 0, autoSkip: false,
                             callback: v => dayLabels[dayTicks.indexOf(v)] }
                },
                y: {
                    min: 0, max: p.yMax,
                    afterFit: s => { s.width = 55; },
                    grid: { display: false, drawTicks: false },
                    border: { display: true, color: '#000', width: 2 },
                    ticks: { stepSize: 5, color: '#000', font: font, padding: 5 },
                    title: { display: true, text: 'CHP power (kW)', color: '#000', font: font, padding: { top: 13, bottom: 0 } }
                }
            }
        },
        plugins: [inwardTicks]
    });
});
</script>
</body>
</html>
